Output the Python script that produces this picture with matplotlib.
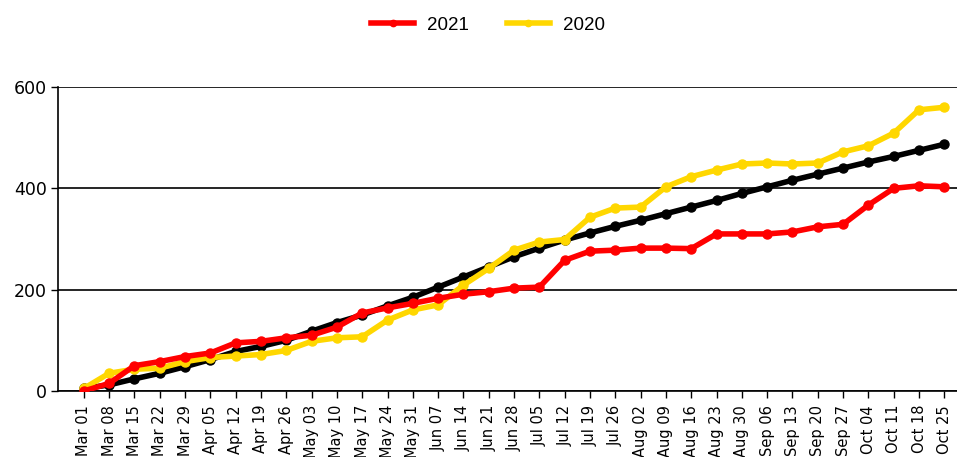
import matplotlib
matplotlib.use("Agg")
import matplotlib.pyplot as plt

weeks = ["Mar 01", "Mar 08", "Mar 15", "Mar 22", "Mar 29", "Apr 05", "Apr 12", "Apr 19", "Apr 26",
         "May 03", "May 10", "May 17", "May 24", "May 31", "Jun 07", "Jun 14", "Jun 21", "Jun 28",
         "Jul 05", "Jul 12", "Jul 19", "Jul 26", "Aug 02", "Aug 09", "Aug 16", "Aug 23", "Aug 30",
         "Sep 06", "Sep 13", "Sep 20", "Sep 27", "Oct 04", "Oct 11", "Oct 18", "Oct 25"]

y2021 = [0, 15, 50, 58, 68, 75, 95, 98, 105, 110, 126, 154, 164, 173, 183, 191, 196, 203,
         205, 258, 276, 278, 282, 282, 281, 310, 310, 310, 314, 324, 329, 367, 400, 405, 403]
y2020 = [5, 35, 43, 45, 58, 66, 69, 72, 80, 98, 105, 107, 140, 160, 170, 209, 242, 278,
         294, 299, 343, 361, 363, 403, 423, 436, 448, 450, 448, 450, 472, 484, 509, 555, 560]
avg = [5, 12, 24, 35, 48, 62, 78, 88, 100, 118, 135, 150, 168, 185, 205, 225, 245, 265,
       282, 298, 312, 325, 337, 350, 363, 376, 390, 403, 416, 428, 440, 452, 463, 475, 487]

plt.rcParams.update({"font.family": ["Liberation Sans", "DejaVu Sans"]})

fig = plt.figure(figsize=(9.57, 4.57), dpi=100)
ax = fig.add_axes([58 / 957, 66 / 457, 1 - 58 / 957, 304 / 457])

x = list(range(len(weeks)))
ax.plot(x, avg, color="black", linewidth=4, marker="o", markersize=6.5, zorder=3)
l20, = ax.plot(x, y2020, color="#FFD700", linewidth=4, marker="o", markersize=6.5, zorder=4)
l21, = ax.plot(x, y2021, color="#FF0000", linewidth=4, marker="o", markersize=6.5, zorder=5)

ax.set_xlim(-1.02, 34.5)
ax.set_ylim(0, 600)
ax.set_yticks([0, 200, 400, 600])
ax.set_yticklabels(["0", "200", "400", "600"], fontsize=12.5, family="DejaVu Sans")
ax.set_xticks(x)
ax.set_xticklabels(weeks, rotation=90, fontsize=10.5, family="DejaVu Sans")
ax.tick_params(axis="y", length=5, width=1, pad=3)
ax.tick_params(axis="x", length=5, width=1, pad=5)
ax.grid(axis="y", color="black", linewidth=1.2)
ax.set_axisbelow(True)
for s in ["top", "right"]:
    ax.spines[s].set_visible(False)
for s in ["left", "bottom"]:
    ax.spines[s].set_linewidth(1.2)

fig.legend([l21, l20], ["2021", "2020"], loc="center", bbox_to_anchor=(0.51, 1 - 25 / 457),
           ncol=2, frameon=False, fontsize=13.5, handlelength=2.3, handletextpad=0.7,
           columnspacing=2.0, markerscale=0.7)

fig.savefig("out.png", dpi=100)
